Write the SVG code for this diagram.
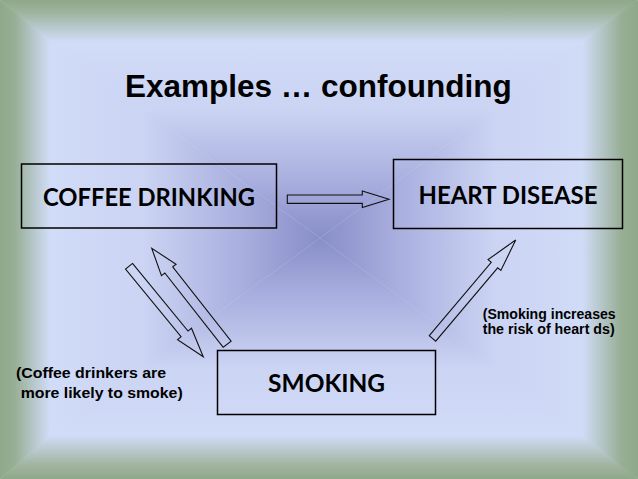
<svg xmlns="http://www.w3.org/2000/svg" width="638" height="479" viewBox="0 0 638 479">
<defs>
<linearGradient id="gTop" x1="0" y1="0" x2="0" y2="42" gradientUnits="userSpaceOnUse"><stop offset="0" stop-color="#8fa78a"/><stop offset="0.3" stop-color="#9fb49e"/><stop offset="1" stop-color="#d1dcf8"/></linearGradient>
<linearGradient id="gBot" x1="0" y1="479" x2="0" y2="435" gradientUnits="userSpaceOnUse"><stop offset="0" stop-color="#8fa78a"/><stop offset="0.3" stop-color="#a0b49f"/><stop offset="1" stop-color="#d1dcf8"/></linearGradient>
<linearGradient id="gLeft" x1="0" y1="0" x2="50" y2="0" gradientUnits="userSpaceOnUse"><stop offset="0" stop-color="#8fa78a"/><stop offset="0.3" stop-color="#98af96"/><stop offset="1" stop-color="#d1dcf8"/></linearGradient>
<linearGradient id="gRight" x1="638" y1="0" x2="582" y2="0" gradientUnits="userSpaceOnUse"><stop offset="0" stop-color="#8fa78a"/><stop offset="0.3" stop-color="#98af96"/><stop offset="1" stop-color="#d1dcf8"/></linearGradient>
<linearGradient id="cTop" x1="0" y1="40" x2="0" y2="238" gradientUnits="userSpaceOnUse"><stop offset="0" stop-color="#d1dcf8"/><stop offset="0.35" stop-color="#cbd4f3"/><stop offset="0.7" stop-color="#aab0df"/><stop offset="1" stop-color="#888ec8"/></linearGradient>
<linearGradient id="cBot" x1="0" y1="437" x2="0" y2="238" gradientUnits="userSpaceOnUse"><stop offset="0" stop-color="#d1dcf8"/><stop offset="0.35" stop-color="#cbd4f3"/><stop offset="0.7" stop-color="#aab0df"/><stop offset="1" stop-color="#888ec8"/></linearGradient>
<linearGradient id="cLeft" x1="48" y1="0" x2="320" y2="0" gradientUnits="userSpaceOnUse"><stop offset="0" stop-color="#d1dcf8"/><stop offset="0.35" stop-color="#cbd4f3"/><stop offset="0.7" stop-color="#aab0df"/><stop offset="1" stop-color="#888ec8"/></linearGradient>
<linearGradient id="cRight" x1="590" y1="0" x2="320" y2="0" gradientUnits="userSpaceOnUse"><stop offset="0" stop-color="#d1dcf8"/><stop offset="0.35" stop-color="#cbd4f3"/><stop offset="0.7" stop-color="#aab0df"/><stop offset="1" stop-color="#888ec8"/></linearGradient>
<style>
.box{fill:none;stroke:#000;stroke-width:1.5}
.arrow{fill:none;stroke:#111;stroke-width:1.1;stroke-linejoin:miter}
.lbl{font-family:Lato,"Open Sans","Liberation Sans",sans-serif;font-weight:bold;font-size:25px;fill:#000;text-anchor:middle}
.note{font-family:"Liberation Sans",Arial,sans-serif;font-weight:bold;font-size:14.5px;fill:#000}
.title{font-family:"Liberation Sans",Arial,sans-serif;font-weight:bold;font-size:31.5px;fill:#000;text-anchor:middle}
</style>
</defs>
<g id="background">
<rect x="0" y="0" width="638" height="479" fill="#d1dcf8"/>
<polygon points="48,40 590,40 320,238" fill="url(#cTop)"/>
<polygon points="48,437 590,437 320,238" fill="url(#cBot)"/>
<polygon points="48,40 48,437 320,238" fill="url(#cLeft)"/>
<polygon points="590,40 590,437 320,238" fill="url(#cRight)"/>
<polygon points="0,0 638,0 590,42 48,42" fill="url(#gTop)"/>
<polygon points="0,479 638,479 590,435 48,435" fill="url(#gBot)"/>
<polygon points="0,0 50,42 50,435 0,479" fill="url(#gLeft)"/>
<polygon points="638,0 582,42 582,435 638,479" fill="url(#gRight)"/>
</g>
<text class="title" x="318.3" y="97">Examples … confounding</text>
<g id="coffee">
<rect class="box" x="21.5" y="164" width="255" height="64"/>
<text class="lbl" x="149" y="205.7" textLength="212" lengthAdjust="spacingAndGlyphs">COFFEE DRINKING</text>
</g>
<g id="heart">
<rect class="box" x="393.5" y="159.5" width="229" height="69"/>
<text class="lbl" x="508" y="204" textLength="179" lengthAdjust="spacingAndGlyphs">HEART DISEASE</text>
</g>
<g id="smoking">
<rect class="box" x="217.5" y="350.5" width="218" height="64"/>
<text class="lbl" x="326.6" y="392.3" textLength="117" lengthAdjust="spacingAndGlyphs">SMOKING</text>
</g>
<g id="connectors">
<polygon class="arrow" transform="translate(287.3,199.2)" points="0,-4.2 75,-4.2 75,-8.3 101.7,0 75,8.3 75,4.2 0,4.2"/>
<polygon class="arrow" transform="translate(129,266.3) rotate(50.6)" points="0,-4.5 87.5,-4.5 87.5,-9 117,0 87.5,9 87.5,4.5 0,4.5"/>
<polygon class="arrow" transform="translate(227.2,344.2) rotate(-128.2)" points="0,-5 94.5,-5 94.5,-9.3 122,0 94.5,9.3 94.5,5 0,5"/>
<polygon class="arrow" transform="translate(432.5,338.4) rotate(-49.8)" points="0,-4.2 96,-4.2 96,-8.4 128.9,0 96,8.4 96,4.2 0,4.2"/>
</g>
<g id="notes">
<text class="note" x="16" y="378.3" textLength="150" lengthAdjust="spacingAndGlyphs" style="font-size:15px">(Coffee drinkers are</text>
<text class="note" x="20.7" y="397.7" textLength="162" lengthAdjust="spacingAndGlyphs" style="font-size:15px">more likely to smoke)</text>
<text class="note" x="482.7" y="319" textLength="133" lengthAdjust="spacingAndGlyphs">(Smoking increases</text>
<text class="note" x="482.7" y="334" textLength="132" lengthAdjust="spacingAndGlyphs">the risk of heart ds)</text>
</g>
</svg>
